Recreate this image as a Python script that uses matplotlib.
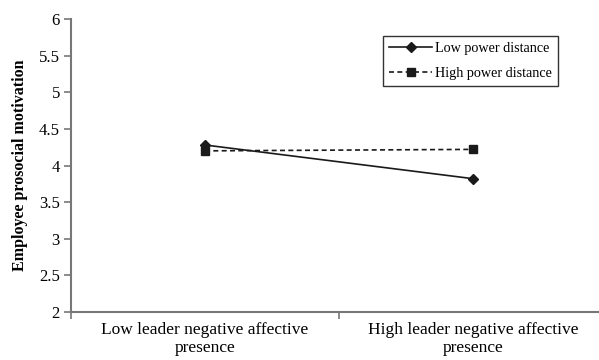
import matplotlib.pyplot as plt

# Data
categories = ["Low leader negative affective\npresence", "High leader negative affective\npresence"]
low_power = [4.28, 3.82]
high_power = [4.20, 4.22]
y_ticks = [2, 2.5, 3, 3.5, 4, 4.5, 5, 5.5, 6]
y_tick_labels = ["2", "2.5", "3", "3.5", "4", "4.5", "5", "5.5", "6"]

plt.rcParams['font.family'] = ['Liberation Serif', 'DejaVu Serif']

fig = plt.figure(figsize=(5.99, 3.6), dpi=100)
W, H = 599, 360
ax = fig.add_axes([71 / W, 1 - 312 / H, 536 / W, 293 / H])

x = [0.5, 1.5]
ax.plot(x, low_power, color="#1a1a1a", linestyle="-", linewidth=1.2,
        marker="D", markersize=5, label="Low power distance")
ax.plot(x, high_power, color="#1a1a1a", linestyle=(0, (3, 2)), linewidth=1.2,
        marker="s", markersize=6, label="High power distance")

ax.set_xlim(0, 2)
ax.set_ylim(2, 6)
ax.set_yticks(y_ticks)
ax.set_yticklabels(y_tick_labels, fontsize=12)
ax.set_xticks([0, 1, 2])
ax.set_xticklabels(["", "", ""])
ax.set_xticks(x, minor=True)
ax.set_xticklabels(categories, minor=True, fontsize=12.5, linespacing=1.15)
ax.tick_params(axis="x", which="minor", length=0, pad=7)
ax.tick_params(axis="x", which="major", length=5, color="#777777", width=1.2)
ax.tick_params(axis="y", length=5, color="#777777", width=1.2, pad=3)

for side in ["top", "right"]:
    ax.spines[side].set_visible(False)
for side in ["left", "bottom"]:
    ax.spines[side].set_color("#777777")
    ax.spines[side].set_linewidth(1.5)

ax.set_ylabel("Employee prosocial motivation", fontsize=11.5, fontweight="bold", labelpad=8)

leg = ax.legend(loc="upper left", bbox_to_anchor=(383 / W, 1 - 36 / H),
                bbox_transform=fig.transFigure, fontsize=10.2, frameon=True,
                fancybox=False, handlelength=3.0, handletextpad=0.2,
                borderpad=0.45, labelspacing=0.8, borderaxespad=0)
leg.get_frame().set_edgecolor("black")
leg.get_frame().set_linewidth(1.0)

fig.savefig("out.png", dpi=100)
